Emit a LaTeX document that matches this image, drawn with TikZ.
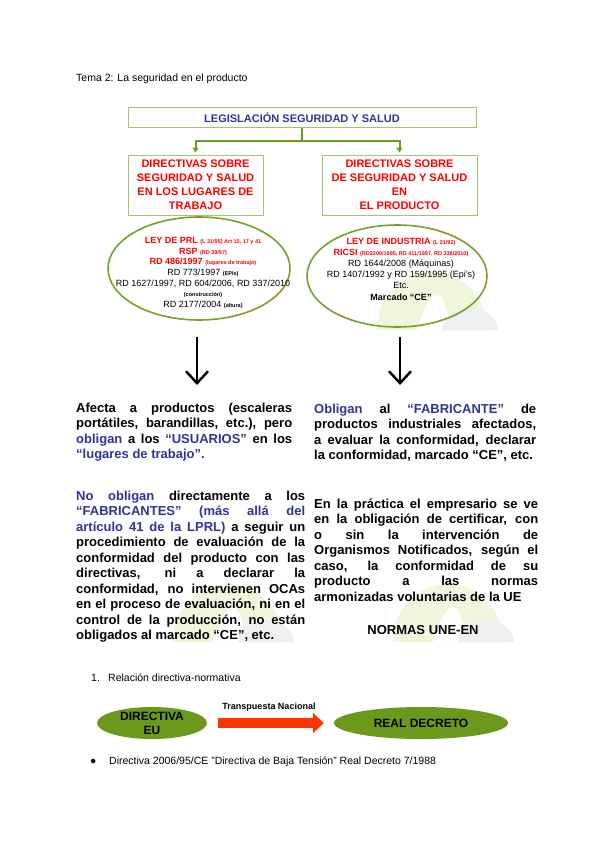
\documentclass[tikz,border=0pt]{standalone}
\usepackage{fontspec}
\setmainfont{Liberation Sans}
\usetikzlibrary{arrows.meta,positioning,shapes.geometric}
\tolerance=10000
\hbadness=10000

\definecolor{dblue}{HTML}{333399}
\definecolor{lgreen}{HTML}{A5C46E}
\definecolor{olive}{HTML}{6E9B1F}
\definecolor{ovgreen}{HTML}{77A12A}
\definecolor{fillgreen}{HTML}{6B991C}
\definecolor{redarr}{HTML}{FF3300}
\definecolor{wmgreen}{HTML}{F0F6DC}
\definecolor{wmgrey}{HTML}{EDEFF1}

% small note inside the ovals
\newcommand{\smalltag}[1]{{\fontsize{5.5}{6}\selectfont\bfseries #1}}
% faint logo behind the text
\newcommand{\wmark}[2]{%
  \begin{scope}[shift={(#1,#2)}]
    \fill[wmgreen] (-55,0) arc[start angle=180,end angle=360,x radius=55,y radius=58] -- cycle;
    \fill[white] (-15,0) .. controls (-8,-25) and (0,-35) .. (5,-35)
                 .. controls (12,-35) and (15,-20) .. (18,0) -- cycle;
    \fill[wmgrey] (10,0) arc[start angle=180,end angle=360,x radius=28,y radius=22] -- cycle;
  \end{scope}}

\begin{document}
\begin{tikzpicture}[x=1pt,y=-1pt,
  title/.style={draw=lgreen,line width=1pt,fill=white,minimum width=348pt,
                minimum height=20pt,inner sep=0pt,text=dblue,
                font=\fontsize{11}{13}\selectfont\bfseries},
  dirbox/.style={draw=lgreen,line width=1pt,fill=white,minimum height=60pt,
                 inner sep=0pt,align=center,text=red,
                 font=\fontsize{11}{14}\selectfont\bfseries},
  oval/.style={ellipse,draw=ovgreen,line width=1.6pt,inner sep=0pt},
  ovtext/.style={align=center,inner sep=0pt,font=\fontsize{9}{10.7}\selectfont},
  para/.style={anchor=base west,inner sep=0pt,align=justify,
               font=\fontsize{13}{15.5}\selectfont\bfseries},
  conn/.style={draw=olive,line width=2pt,-{Triangle[length=5pt,width=6pt]}},
  down/.style={line width=2.4pt,-{Straight Barb[length=12pt,width=22pt]}},
  blob/.style={ellipse,fill=fillgreen,inner sep=0pt,minimum height=32pt,align=center,
               font=\fontsize{12}{14}\selectfont\bfseries},
  plain/.style={anchor=base west,inner sep=0pt,font=\fontsize{10.5}{12}\selectfont}]

\useasboundingbox (0,0) rectangle (600,848);
\fill[white] (0,0) rectangle (600,848);
\wmark{432}{330}
\wmark{228}{642}
\wmark{448}{642}

\node[plain] (tema) at (76,82) {Tema 2: La seguridad en el producto};

\node[title] (leg) at (302,118) {LEGISLACIÓN SEGURIDAD Y SALUD};
\node[dirbox,minimum width=135pt] (lbox) at (195.5,185)
  {DIRECTIVAS SOBRE\\SEGURIDAD Y SALUD\\EN LOS LUGARES DE\\TRABAJO};
\node[dirbox,minimum width=155pt] (rbox) at (399.5,185)
  {DIRECTIVAS SOBRE\\DE SEGURIDAD Y SALUD\\EN\\EL PRODUCTO};
\draw[conn] (leg.south) -- ++(0,12) -| ([yshift=2pt]lbox.north);
\draw[conn] (leg.south) -- ++(0,12) -| ([yshift=2pt]rbox.north);

\node[oval,minimum width=182pt,minimum height=103pt] (lov) at (199,268.5) {};
\node[ovtext] (lovt) at (203,273) {%
  \textcolor{red}{\textbf{LEY DE PRL} \smalltag{(L 31/95) Art 15, 17 y 41}}\\
  \textcolor{red}{\textbf{RSP} \smalltag{(RD 39/97)}}\\
  \textcolor{red}{\textbf{RD 486/1997} \smalltag{(lugares de trabajo)}}\\
  RD 773/1997 \smalltag{(EPIs)}\\
  RD 1627/1997, RD 604/2006, RD 337/2010\\
  \smalltag{(construcción)}\\
  RD 2177/2004 \smalltag{(altura)}};
\node[oval,minimum width=180pt,minimum height=102pt] (rov) at (397,276) {};
\node[ovtext,font=\fontsize{9}{11.2}\selectfont] (rovt) at (401,269) {%
  \textcolor{red}{\textbf{LEY DE INDUSTRIA} \smalltag{(L 21/92)}}\\
  \textcolor{red}{\textbf{RICSI} \smalltag{(RD2200/1995, RD 411/1997, RD 338/2010)}}\\
  RD 1644/2008 (Máquinas)\\
  RD 1407/1992 y RD 159/1995 (Epi's)\\
  Etc.\\
  \textbf{Marcado “CE”}};

\coordinate (la1) at (197,337);
\coordinate (la2) at (197,385);
\coordinate (ra1) at (400,337);
\coordinate (ra2) at (400,385);
\draw[down] (la1) -- (la2);
\draw[down] (ra1) -- (ra2);

\node[para,text width=216pt] (lp1) at (76,412) {Afecta a productos (escaleras\linebreak
  portátiles, barandillas, etc.), pero\linebreak
  \textcolor{dblue}{obligan} a los \textcolor{dblue}{“USUARIOS”} en los\linebreak
  \textcolor{dblue}{“lugares de trabajo”.}};
\node[para,text width=222pt] (rp1) at (314,413) {\textcolor{dblue}{Obligan} al
  \textcolor{dblue}{“FABRICANTE”} de\linebreak
  productos industriales afectados,\linebreak
  a evaluar la conformidad, declarar\linebreak
  la conformidad, marcado “CE”, etc.};
\node[para,text width=229pt] (lp2) at (76,500) {\textcolor{dblue}{No obligan} directamente a los\linebreak
  \textcolor{dblue}{“FABRICANTES” (más allá del\linebreak
  artículo 41 de la LPRL)} a seguir un\linebreak
  procedimiento de evaluación de la\linebreak
  conformidad del producto con las\linebreak
  directivas, ni a declarar la\linebreak
  conformidad, no intervienen OCAs\linebreak
  en el proceso de evaluación, ni en el\linebreak
  control de la producción, no están\linebreak
  obligados al marcado “CE”, etc.};
\node[para,text width=224pt] (rp2) at (314,508) {En la práctica el empresario se ve\linebreak
  en la obligación de certificar, con\linebreak
  o sin la intervención de\linebreak
  Organismos Notificados, según el\linebreak
  caso, la conformidad de su\linebreak
  producto a las normas\linebreak
  armonizadas voluntarias de la UE};
\node[anchor=base,inner sep=0pt,font=\fontsize{13}{15}\selectfont\bfseries] (une) at (423,634) {NORMAS UNE-EN};

\node[plain] (n1) at (91,681) {1.};
\node[plain] (rel) at (108,681) {Relación directiva-normativa};

\node[blob,minimum width=110pt] (dir) at (152,723) {DIRECTIVA\\EU};
\node[blob,minimum width=174pt] (rd) at (421,723) {REAL DECRETO};
\draw[redarr,line width=10pt,shorten <=11pt,shorten >=10pt,
      -{Triangle[length=11pt,width=20pt]}] (dir) -- (rd);
\node[inner sep=0pt,font=\fontsize{9}{11}\selectfont\bfseries] (tn) at (269,707) {Transpuesta Nacional};

\node[plain] (bul) at (90,764) {●};
\node[plain] (bl) at (109,764) {Directiva 2006/95/CE "Directiva de Baja Tensión" Real Decreto 7/1988};
\end{tikzpicture}
\end{document}
